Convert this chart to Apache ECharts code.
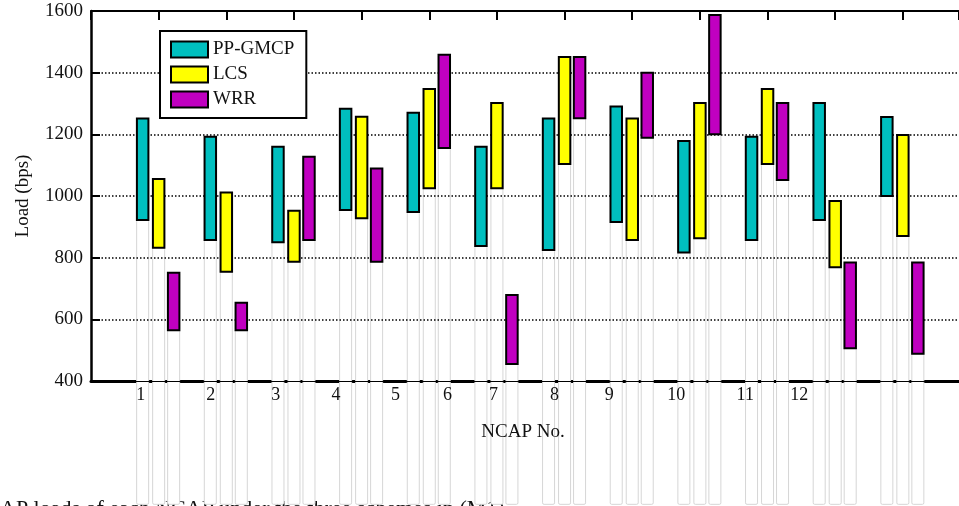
<!DOCTYPE html>
<html>
<head>
<meta charset="utf-8">
<script src="https://cdn.jsdelivr.net/npm/echarts@6/dist/echarts.min.js"></script>
<style>html,body{margin:0;padding:0;background:#fff;}#chart{width:959px;height:506px;}</style>
</head>
<body>
<div id="chart"></div>
<script>
// ---- data ----
const groups = [1, 2, 3, 4, 5, 6, 7, 8, 9, 10, 11, 12];
const seriesNames = ['PP-GMCP', 'LCS', 'WRR'];
const ppgmcpLow  = [922, 857, 850, 955, 948, 838, 825, 916, 817, 857, 922, 1000];
const ppgmcpHigh = [1251, 1192, 1160, 1283, 1270, 1160, 1251, 1290, 1178, 1192, 1302, 1256];
const lcsLow     = [832, 754, 787, 928, 1025, 1025, 1104, 857, 863, 1104, 769, 870];
const lcsHigh    = [1055, 1011, 952, 1257, 1347, 1302, 1451, 1251, 1302, 1347, 984, 1198];
const wrrLow     = [565, 565, 857, 787, 1156, 455, 1252, 1189, 1200, 1052, 506, 488];
const wrrHigh    = [751, 654, 1127, 1089, 1458, 679, 1451, 1400, 1587, 1302, 784, 784];
const xTickLabels = ['1', '2', '3', '4', '5', '6', '7', '8', '9', '10', '11', '12'];
const xTickLabelPos = [0.735, 1.77, 2.73, 3.62, 4.50, 5.27, 5.95, 6.85, 7.66, 8.65, 9.67, 10.47];
const yTicks = [400, 600, 800, 1000, 1200, 1400, 1600];

// ---- styles ----
const colors = ['#00BFBF', '#FFFF00', '#C000C0'];
const offsets = [-16, 0, 15];
const FONT = '"Liberation Serif", "Times New Roman", serif';
const lows = [ppgmcpLow, lcsLow, wrrLow];
const highs = [ppgmcpHigh, lcsHigh, wrrHigh];

function barRender(off, color) {
  return function (params, api) {
    const x = api.value(0);
    const pLo = api.coord([x, api.value(1)]);
    const pHi = api.coord([x, api.value(2)]);
    const w = 11.5;
    return {
      type: 'rect',
      shape: { x: pLo[0] + off - w / 2, y: pHi[1], width: w, height: pLo[1] - pHi[1] },
      style: { fill: color, stroke: '#000', lineWidth: 2 }
    };
  };
}
function ghostRender(off) {
  return function (params, api) {
    const x = api.value(0);
    const pBase = api.coord([x, 0]);
    const pLo = api.coord([x, api.value(1)]);
    const w = 12;
    return {
      type: 'rect',
      shape: { x: pBase[0] + off - w / 2, y: pLo[1], width: w, height: pBase[1] - pLo[1], r: 1.5 },
      style: { fill: '#fff', stroke: '#d6d6d6', lineWidth: 1 }
    };
  };
}

const series = [];
for (let s = 0; s < 3; s++) {
  series.push({
    name: seriesNames[s] + ' base',
    type: 'custom',
    xAxisIndex: 0, yAxisIndex: 0,
    renderItem: ghostRender(offsets[s]),
    data: groups.map((g, i) => [g, lows[s][i]]),
    clip: false, silent: true, z: 1
  });
}
for (let s = 0; s < 3; s++) {
  series.push({
    name: seriesNames[s],
    type: 'custom',
    xAxisIndex: 0, yAxisIndex: 0,
    renderItem: barRender(offsets[s], colors[s]),
    itemStyle: { color: colors[s], borderColor: '#000', borderWidth: 2 },
    data: groups.map((g, i) => [g, lows[s][i], highs[s][i]]),
    clip: false, silent: true, z: 3
  });
}
series.push({
  name: 'xlabels',
  type: 'custom',
  xAxisIndex: 0, yAxisIndex: 0,
  renderItem: function (params, api) {
    const p = api.coord([api.value(0), yTicks[0]]);
    return {
      type: 'text',
      style: { text: xTickLabels[params.dataIndex], x: p[0], y: p[1] + 14, align: 'center', verticalAlign: 'middle', font: '18px ' + FONT, fill: '#111' }
    };
  },
  data: xTickLabelPos.map(p => [p, yTicks[0]]),
  clip: false, silent: true, z: 5
});

const chart = echarts.init(document.getElementById('chart'));
chart.setOption({
  animation: false,
  backgroundColor: '#fff',
  grid: { left: 91, right: 0, top: 11, bottom: 125 },
  legend: {
    data: seriesNames,
    orient: 'vertical', left: 160, top: 31,
    itemWidth: 37, itemHeight: 16, itemGap: 6,
    padding: [9, 12, 9, 10],
    borderColor: '#000', borderWidth: 2, backgroundColor: '#fff',
    icon: 'rect',
    itemStyle: { borderColor: '#000', borderWidth: 2 },
    textStyle: { fontFamily: FONT, fontSize: 19, color: '#111' },
    z: 6
  },
  xAxis: [
    {
      type: 'value', position: 'top', min: 0, max: 12.83, interval: 1,
      axisLine: { lineStyle: { color: '#000', width: 2 } },
      axisTick: { inside: true, length: 9, lineStyle: { color: '#000', width: 2 } },
      axisLabel: { show: false }, splitLine: { show: false }, z: 2
    },
    {
      type: 'value', position: 'bottom', min: 0, max: 12.83, interval: 1,
      axisLine: { onZero: false, lineStyle: { color: '#000', width: 3 } },
      axisTick: { show: false }, axisLabel: { show: false }, splitLine: { show: false }, z: 0
    }
  ],
  yAxis: [
    {
      type: 'value', min: 400, max: 1600, interval: 200,
      name: 'Load (bps)', nameLocation: 'middle', nameGap: 58, nameRotate: 90,
      nameTextStyle: { fontFamily: FONT, fontSize: 19, color: '#111' },
      axisLine: { show: true, lineStyle: { color: '#000', width: 2.5 } },
      axisTick: { show: true, inside: true, length: 9, lineStyle: { color: '#000', width: 2 } },
      axisLabel: { margin: 8, fontFamily: FONT, fontSize: 19, color: '#111', formatter: function (v) { return String(v); } },
      splitLine: { show: true, showMinLine: false, showMaxLine: false, lineStyle: { color: '#000', width: 1.5, type: [1.5, 2] } },
      z: 2
    },
    {
      type: 'value', position: 'right', min: 400, max: 1600, interval: 1200,
      axisLine: { show: false }, axisTick: { show: false }, axisLabel: { show: false },
      splitLine: { show: true, showMinLine: true, showMaxLine: false, lineStyle: { color: '#000', width: 1, type: 'solid' } },
      z: 2
    }
  ],
  graphic: [
    { type: 'text', x: 523, y: 432, z: 10, style: { text: 'NCAP No.', align: 'center', verticalAlign: 'middle', font: '19px ' + FONT, fill: '#111' } },
    { type: 'text', x: 0, y: 498, z: 0, zlevel: 0, style: { text: 'AP loads of each NCAP under the three schemes in (M1)', align: 'left', verticalAlign: 'top', font: '22px ' + FONT, fill: '#111' } }
  ],
  series: series
});
</script>
</body>
</html>
